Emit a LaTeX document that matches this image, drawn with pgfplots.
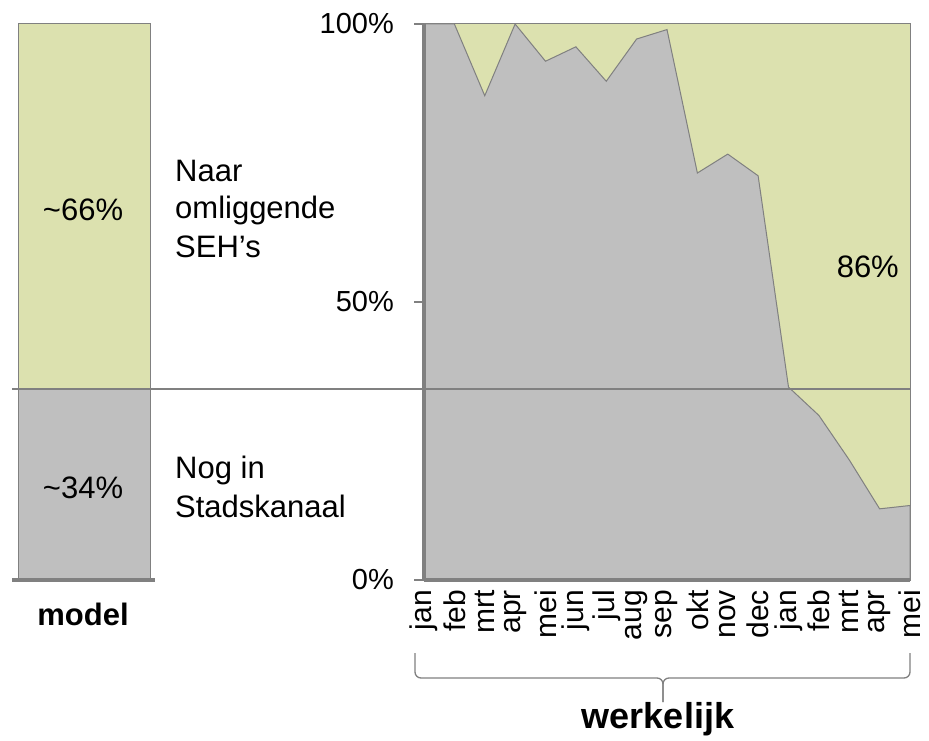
\documentclass[border=0pt]{standalone}
\usepackage{fontspec}
\setmainfont{Liberation Sans}
\usepackage{pgfplots}
\pgfplotsset{compat=1.18}

\definecolor{fillgreen}{RGB}{220,225,175}
\definecolor{fillgray}{RGB}{191,191,191}
\definecolor{linegray}{RGB}{128,128,128}

\newcommand{\fs}[1]{\fontsize{#1}{1.2\dimexpr#1pt\relax}\selectfont}

\begin{document}
\begin{tikzpicture}
\path[use as bounding box] (0pt,0pt) rectangle (929pt,-741pt);

% model bar
\begin{axis}[
    at={(18pt,-580pt)}, anchor=south west,
    scale only axis, width=132pt, height=556pt,
    xmin=0, xmax=1, ymin=0, ymax=100,
    hide axis, clip=false
]
\addplot[fill=fillgreen, draw=linegray, line width=1pt] coordinates {(0,34.4) (1,34.4) (1,100) (0,100)} --cycle;
\addplot[fill=fillgray, draw=linegray, line width=1pt] coordinates {(0,0) (1,0) (1,34.4) (0,34.4)} --cycle;
\addplot[linegray, line width=4pt] coordinates {(-0.045,0) (1.04,0)};
\end{axis}

% werkelijk
\begin{axis}[
    at={(424pt,-580pt)}, anchor=south west,
    scale only axis, width=486pt, height=556pt,
    xmin=0, xmax=16, ymin=0, ymax=100,
    axis x line*=bottom, axis y line*=left,
    axis line style={-, linegray, line width=4pt},
    axis on top, clip=false,
    ytick={0,50,100}, yticklabels={0\%,50\%,100\%},
    y tick style={linegray, line width=2pt},
    major tick length=10pt, tick align=outside,
    yticklabel style={anchor=east, inner sep=0pt, xshift=-20pt, font=\fs{29}},
    xtick={0,...,16},
    xticklabels={jan,feb,mrt,apr,mei,jun,jul,aug,sep,okt,nov,dec,jan,feb,mrt,apr,mei},
    x tick style={draw=none},
    xticklabel style={rotate=90, anchor=east, inner sep=0pt, font=\fs{30}},
    /pgf/number format/assume math mode=true
]
\addplot[fill=fillgreen, draw=linegray, line width=1pt] coordinates {(0,0) (16,0) (16,100) (0,100)} --cycle;
\addplot[fill=fillgray, draw=linegray, line width=1pt] coordinates {
(0,100) (1,100) (2,87.1) (3,100) (4,93.3) (5,95.9) (6,89.7) (7,97.3) (8,99.0)
(9,73.2) (10,76.6) (11,72.7) (12,34.7) (13,29.6) (14,21.6) (15,12.8) (16,13.4)} \closedcycle;
\addplot[linegray, line width=2pt] coordinates {(-13.56,34.4) (16,34.4)};
\end{axis}

% texts
\node[font=\fs{31}, anchor=base] at (83pt,-220pt) {\textasciitilde66\%};
\node[font=\fs{31}, anchor=base] at (83pt,-498pt) {\textasciitilde34\%};
\node[font=\fs{31}, anchor=base west, inner sep=0pt] at (175pt,-182pt) {Naar};
\node[font=\fs{31}, anchor=base west, inner sep=0pt] at (175pt,-218pt) {omliggende};
\node[font=\fs{31}, anchor=base west, inner sep=0pt] at (175pt,-257pt) {SEH’s};
\node[font=\fs{31}, anchor=base west, inner sep=0pt] at (175pt,-478pt) {Nog in};
\node[font=\fs{31}, anchor=base west, inner sep=0pt] at (175pt,-517pt) {Stadskanaal};
\node[font=\fs{31}, anchor=base east, inner sep=0pt] at (899pt,-277pt) {86\%};
\node[font=\bfseries\fs{31}, anchor=base] at (83pt,-625pt) {model};
\node[font=\bfseries\fs{36}, anchor=base] at (658pt,-728pt) {werkelijk};

% brace
\draw[linegray, line width=1.3pt, rounded corners=6pt] (415pt,-653pt) |- (663pt,-678pt) -- (663pt,-702pt);
\draw[linegray, line width=1.3pt, rounded corners=6pt] (910pt,-653pt) |- (663pt,-678pt) -- (663pt,-702pt);
\end{tikzpicture}
\end{document}
